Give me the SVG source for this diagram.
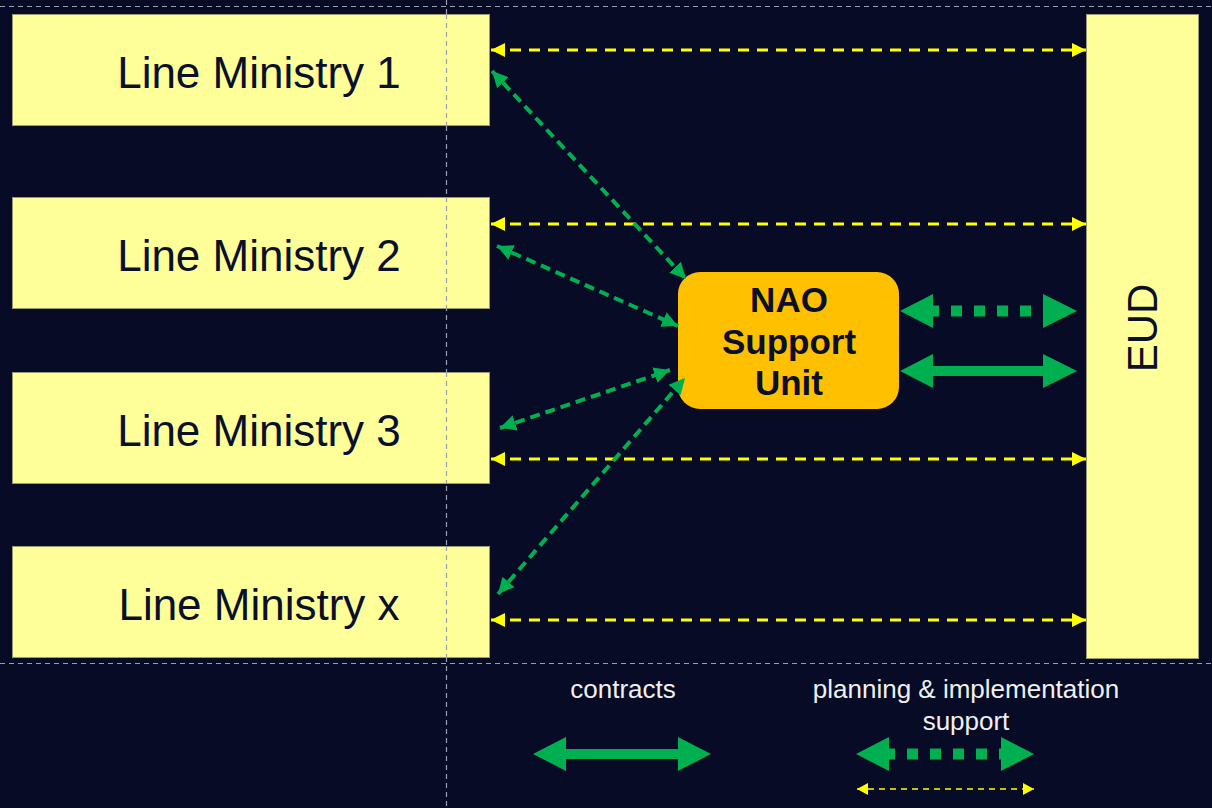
<svg xmlns="http://www.w3.org/2000/svg" width="1212" height="808" viewBox="0 0 1212 808">
<style>
.box{fill:#FFFF99;stroke:#9a9a70;stroke-width:1}
.lm{font-family:"Liberation Sans",Arial,sans-serif;font-size:44px;fill:#0a0f2a;text-anchor:middle}
.guide{stroke:#9aa0b0;stroke-width:1.2;stroke-dasharray:5 4;fill:none}
.y{stroke:#FFFF00;stroke-width:3;stroke-dasharray:11 8;fill:none}
.g{stroke:#00B050;stroke-width:4;stroke-dasharray:10 6;fill:none}
.leg{font-family:"Liberation Sans",Arial,sans-serif;font-size:26px;fill:#f0f0f0;text-anchor:middle}
.gf{fill:#00B050}
</style>
<defs>
<marker id="ya" markerUnits="userSpaceOnUse" markerWidth="16" markerHeight="16" refX="14" refY="7" orient="auto-start-reverse" viewBox="0 0 16 14"><path d="M0,0 L14,7 L0,14 Z" fill="#FFFF00"/></marker>
<marker id="ys" markerUnits="userSpaceOnUse" markerWidth="12" markerHeight="12" refX="11" refY="6" orient="auto-start-reverse" viewBox="0 0 12 12"><path d="M0,0 L11,6 L0,12 Z" fill="#FFFF00"/></marker>
<marker id="ga" markerUnits="userSpaceOnUse" markerWidth="18" markerHeight="18" refX="16" refY="8" orient="auto-start-reverse" viewBox="0 0 18 16"><path d="M0,0 L16,8 L0,16 Z" fill="#00B050"/></marker>
</defs>
<rect width="1212" height="808" fill="#070B26"/>
<g id="guides">
<line class="guide" x1="0" y1="6.5" x2="1212" y2="6.5"/>
<line class="guide" x1="0" y1="663.5" x2="1212" y2="663.5"/>
<line class="guide" x1="446.5" y1="0" x2="446.5" y2="808"/>
</g>
<g id="lm1"><rect class="box" x="12.5" y="14.5" width="477" height="111"/><line class="guide" x1="446.5" y1="14" x2="446.5" y2="126"/><text class="lm" x="259" y="88">Line Ministry 1</text></g>
<g id="lm2"><rect class="box" x="12.5" y="197.5" width="477" height="111"/><line class="guide" x1="446.5" y1="197" x2="446.5" y2="309"/><text class="lm" x="259" y="271">Line Ministry 2</text></g>
<g id="lm3"><rect class="box" x="12.5" y="372.5" width="477" height="111"/><line class="guide" x1="446.5" y1="372" x2="446.5" y2="484"/><text class="lm" x="259" y="446">Line Ministry 3</text></g>
<g id="lmx"><rect class="box" x="12.5" y="546.5" width="477" height="111"/><line class="guide" x1="446.5" y1="546" x2="446.5" y2="658"/><text class="lm" x="259" y="620">Line Ministry x</text></g>
<g id="eud"><rect class="box" x="1086.5" y="14.5" width="112" height="644"/><text class="lm" transform="translate(1157,328) rotate(-90)" style="font-size:42px">EUD</text></g>
<g id="nao"><rect x="678" y="272" width="221" height="137" rx="22" fill="#FFC000"/>
<text font-family="Liberation Sans,Arial,sans-serif" font-size="35" font-weight="bold" fill="#0a0f2a" text-anchor="middle"><tspan x="789" y="312">NAO</tspan><tspan x="789" y="354">Support</tspan><tspan x="789" y="395">Unit</tspan></text></g>
<g id="connectors">
<line class="y" x1="491" y1="50" x2="1086" y2="50" marker-start="url(#ya)" marker-end="url(#ya)"/>
<line class="y" x1="491" y1="224" x2="1086" y2="224" marker-start="url(#ya)" marker-end="url(#ya)"/>
<line class="y" x1="491" y1="459" x2="1086" y2="459" marker-start="url(#ya)" marker-end="url(#ya)"/>
<line class="y" x1="491" y1="620" x2="1086" y2="620" marker-start="url(#ya)" marker-end="url(#ya)"/>
<line class="g" x1="492" y1="71" x2="686" y2="279" marker-start="url(#ga)" marker-end="url(#ga)"/>
<line class="g" x1="497" y1="246" x2="678" y2="326" marker-start="url(#ga)" marker-end="url(#ga)"/>
<line class="g" x1="500" y1="428" x2="670" y2="370" marker-start="url(#ga)" marker-end="url(#ga)"/>
<line class="g" x1="498" y1="594" x2="685" y2="378" marker-start="url(#ga)" marker-end="url(#ga)"/>
<g id="dotted-big">
<polygon class="gf" points="900,311 933,294 933,328"/>
<polygon class="gf" points="1077,311 1043,294 1043,328"/>
<line x1="933" y1="311" x2="1043" y2="311" stroke="#00B050" stroke-width="11" stroke-dasharray="6 12 11 12 11 12 11 12 11 12"/>
</g>
<polygon id="solid-big" class="gf" points="900,371 933,354 933,366 1043,366 1043,354 1077,371 1043,388 1043,376 933,376 933,388"/>
</g>
<g id="legend">
<text class="leg" x="623" y="698">contracts</text>
<text class="leg" x="966" y="698">planning &amp; implementation</text>
<text class="leg" x="966" y="730">support</text>
<polygon class="gf" points="533,754 566,737 566,749 678,749 678,737 711,754 678,771 678,759 566,759 566,771"/>
<polygon class="gf" points="856,754 889,737 889,771"/>
<polygon class="gf" points="1034,754 1001,737 1001,771"/>
<line x1="889" y1="754" x2="1001" y2="754" stroke="#00B050" stroke-width="11" stroke-dasharray="6 12 11 12 11 12 11 12 11 12"/>
<line x1="857" y1="789" x2="1034" y2="789" stroke="#FFFF00" stroke-width="1.5" stroke-dasharray="6 5" marker-start="url(#ys)" marker-end="url(#ys)"/>
</g>
</svg>
